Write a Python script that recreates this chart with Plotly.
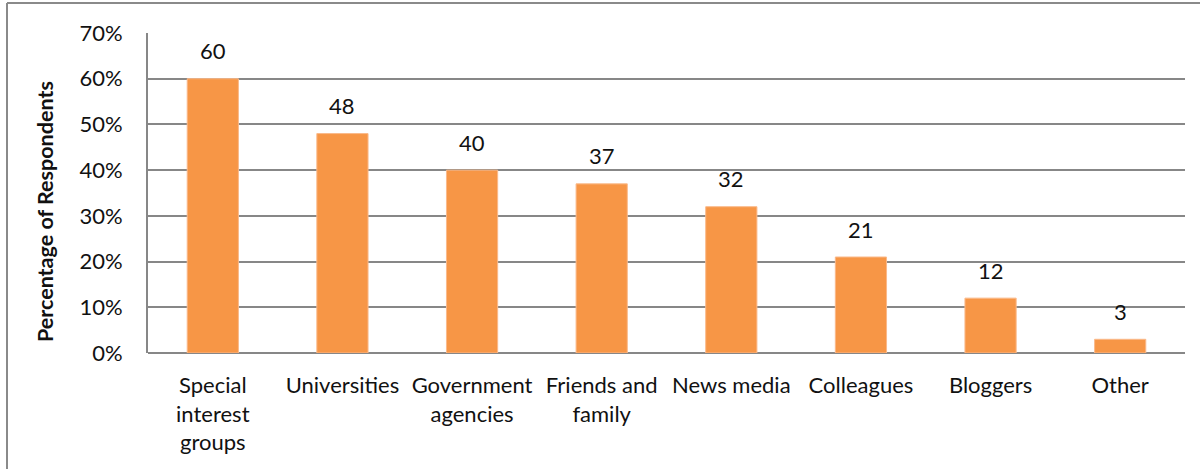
import plotly.graph_objects as go

# Survey: where respondents get their information
categories = [
    "Special<br>interest<br>groups",
    "Universities",
    "Government<br>agencies",
    "Friends and<br>family",
    "News media",
    "Colleagues",
    "Bloggers",
    "Other",
]
percent = [60, 48, 40, 37, 32, 21, 12, 3]
y_ticks = [0, 10, 20, 30, 40, 50, 60, 70]
y_tick_text = [f"{v}%" for v in y_ticks]

W, H = 1200, 469
ML, MR, MT, MB = 148, 15, 33, 116
PW, PH = W - ML - MR, H - MT - MB

FONT = "Lato, Calibri, Carlito, sans-serif"
GRID = "#878787"
BAR = "#F79646"

fig = go.Figure(
    go.Bar(
        x=categories,
        y=percent,
        marker=dict(color=BAR, line=dict(color="#FAB98A", width=1)),
        hoverinfo="skip",
    )
)

# value labels above each bar
for c, v in zip(categories, percent):
    fig.add_annotation(
        x=c, y=v, text=str(v), showarrow=False,
        yanchor="middle", yshift=28,
        font=dict(family=FONT, size=22, color="#111111"),
    )

# y axis title
fig.add_annotation(
    xref="paper", yref="paper", x=(45 - ML) / PW, y=(MT + PH - 212) / PH,
    text="<b>Percentage of Respondents</b>", textangle=-90, showarrow=False,
    xanchor="center", yanchor="middle",
    font=dict(family=FONT, size=21.5, color="#111111"),
)

# outer chart frame (top and left edges)
x_frame = (7 - ML) / PW
y_frame = (MT + PH - 3) / PH
fig.add_shape(type="line", xref="paper", yref="paper",
              x0=x_frame, x1=(W - ML) / PW, y0=y_frame, y1=y_frame,
              line=dict(color="#8a8a8a", width=2))
fig.add_shape(type="line", xref="paper", yref="paper",
              x0=x_frame, x1=x_frame, y0=y_frame, y1=-MB / PH,
              line=dict(color="#8a8a8a", width=2))

fig.update_layout(
    width=W, height=H,
    margin=dict(l=ML, r=MR, t=MT, b=MB, pad=0),
    paper_bgcolor="white", plot_bgcolor="white",
    bargap=0.605,
    showlegend=False,
    font=dict(family=FONT, size=22, color="#111111"),
)
fig.update_xaxes(
    showgrid=False, showline=False, ticks="",
    tickfont=dict(family=FONT, size=22, color="#111111"),
    ticklabelstandoff=17,
    fixedrange=True,
)
fig.update_yaxes(
    range=[0, 70], tickvals=y_ticks, ticktext=y_tick_text,
    showgrid=True, gridcolor=GRID, gridwidth=2,
    showline=True, linecolor=GRID, linewidth=2,
    zeroline=True, zerolinecolor=GRID, zerolinewidth=2,
    ticks="", ticklabelstandoff=19,
    tickfont=dict(family=FONT, size=22, color="#111111"),
    fixedrange=True,
)

fig.write_html("out.html", config={"displayModeBar": False})
